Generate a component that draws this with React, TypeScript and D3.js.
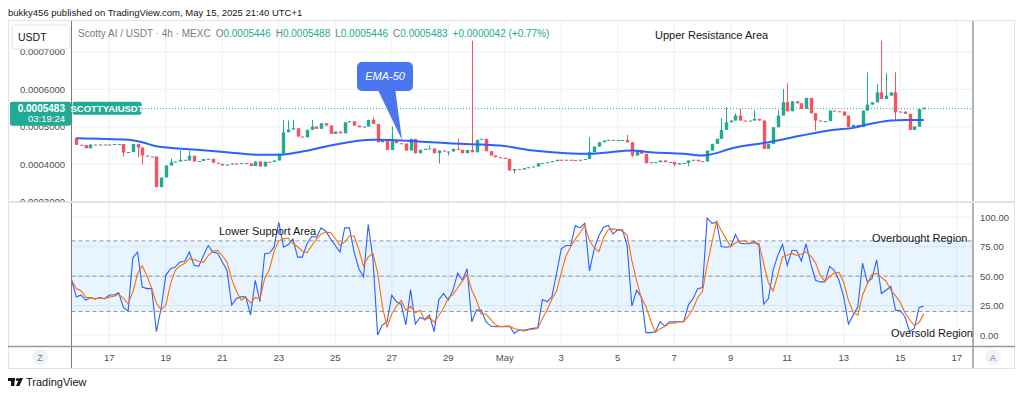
import React from 'react';
import * as d3 from 'd3';

const FONT = '"Liberation Sans", Arial, sans-serif';
const UNIT = 1e-7; // prices below are in units of 0.0000001 USDT
const FIRST_CANDLE = Date.UTC(2025, 3, 15, 20); // candle index 1
const H4 = 4 * 3600 * 1000;
const FIRST_OPEN = 4667;

// closes of 4h candles, index 1..181
const closes = [
  4491, 4485, 4400, 4499, 4485, 4499, 4485, 4499, 4512, 4512,
  4285, 4299, 4512, 4419, 4205, 4179, 4179, 3365, 3619, 3939,
  4027, 4045, 4091, 4072, 4197, 4045, 4059, 4112, 4117, 4011,
  3984, 3939, 3965, 3992, 3979, 4005, 3992, 3925, 4045, 3912,
  4037, 4032, 4072, 4251, 4827, 4899, 4933, 4712, 4693, 4891,
  4979, 4917, 5067, 5005, 4784, 4845, 4800, 5093, 5120, 5005,
  4960, 4979, 5157, 5051, 4560, 4619, 4357, 4605, 4533, 4525,
  4339, 4651, 4267, 4357, 4384, 4392, 4267, 4339, 4312, 4312,
  4384, 4357, 4267, 4352, 4293, 4624, 4651, 4320, 4205, 4160,
  4144, 4117, 3805, 3845, 3832, 3867, 3893, 3912, 4000, 4005,
  4027, 4053, 4091, 4085, 4091, 4085, 4072, 4091, 4112, 4293,
  4445, 4560, 4605, 4624, 4605, 4619, 4619, 4560, 4205, 4339,
  4251, 4000, 4027, 4027, 4072, 4027, 4032, 3965, 4000, 4005,
  4072, 4091, 4053, 4045, 4339, 4517, 4651, 4891, 5093, 5139,
  5272, 5139, 5125, 5139, 5184, 5139, 4384, 4517, 4960, 5272,
  5627, 5387, 5653, 5600, 5451, 5744, 5333, 5139, 5120, 5125,
  5405, 5387, 5379, 5272, 4960, 5024, 4965, 5405, 5565, 5627,
  5893, 5717, 5805, 5893, 5360, 5379, 5317, 4891, 4979, 5446,
  5483,
];

// wick extremes: [candle index, price]
const wickHighs: [number, number][] = [
  [1, 4685], [21, 4125], [23, 4339], [25, 4320], [45, 5157], [46, 5139], [47, 5165],
  [51, 5157], [64, 5227], [68, 4979], [76, 4472], [82, 4651], [85, 7272], [110, 4693],
  [118, 4757], [138, 5211], [139, 5499], [141, 5333], [142, 5451], [145, 5405],
  [150, 5405], [151, 5984], [152, 6133], [169, 6427], [171, 6117], [172, 7272],
  [173, 6400], [175, 6427], [181, 5488],
];
const wickLows: [number, number][] = [
  [11, 4179], [14, 4160], [15, 3965], [18, 3352], [19, 3352], [66, 4552], [78, 3992],
  [80, 4205], [94, 3733], [119, 4160], [128, 3912], [131, 3920], [158, 4872],
  [175, 5139], [181, 5446],
];

// EMA-50: [candle index, value]
const ema50: [number, number][] = [
  [1, 4667], [12, 4624], [15, 4560], [18, 4453], [26, 4365], [33, 4293], [40, 4224],
  [44, 4224], [49, 4312], [55, 4472], [64, 4624], [73, 4587], [80, 4533], [87, 4499],
  [91, 4472], [98, 4339], [105, 4267], [110, 4251], [113, 4277], [119, 4339],
  [123, 4293], [130, 4251], [134, 4205], [141, 4419], [148, 4560], [155, 4739],
  [162, 4891], [166, 4944], [169, 5032], [174, 5139], [177, 5157], [181, 5157],
];

// Stoch RSI %K, candle index 0..181
const stochK = [
  46.5, 32.4, 33.8, 29.6, 31.8, 30.7, 31.8, 30.7, 34, 34,
  35.8, 23.4, 20.3, 65.6, 70.4, 40.8, 39.4, 39.4, 2.8, 22.5,
  50.7, 56.3, 57.7, 62, 62.5, 70.4, 59.2, 58.3, 67.6, 76,
  70.4, 69.6, 62, 55, 25.4, 31, 32.4, 32.4, 16.9, 46.5,
  28.2, 69, 69.6, 74.6, 95.8, 74.6, 76.9, 81.7, 66.2, 66.2,
  77.5, 83.7, 83.1, 91, 88.2, 81.7, 76, 70.4, 91, 91,
  70.4, 56.3, 49.3, 93.8, 64.8, 0, 8.5, 11.3, 33.8, 28.2,
  26.2, 8.5, 38.6, 9.3, 14.9, 13.2, 16.9, 2.8, 30.1, 35.2,
  29.6, 38, 52.7, 46.5, 56.3, 11.3, 21.1, 21.1, 11.3, 7.6,
  7, 7, 7.3, 7.6, 1.4, 4.2, 4.2, 4.8, 5.6, 6.2,
  30.1, 28.2, 32.4, 52.1, 73.2, 76, 76, 93, 91, 94.9,
  54.4, 73.2, 84.5, 91.5, 93, 85.9, 89.3, 89.3, 76, 24.5,
  38, 32.4, 2, 2, 2.8, 11.3, 7.6, 11.3, 11.3, 11.3,
  11.3, 25.4, 31, 39.4, 40.3, 99.4, 94.9, 95.8, 75.2, 74.6,
  75.2, 85.4, 78, 77.5, 77.5, 79.7, 76, 26.2, 31, 54.9,
  67.6, 76.9, 59.2, 71.8, 71.8, 62.8, 77.5, 60.6, 46.5, 45.1,
  45.1, 58.3, 54.9, 46.5, 32.4, 9.3, 16.9, 23.9, 61.1, 45.1,
  47.9, 63.9, 35.2, 38, 41.4, 21.1, 20.6, 15.5, 2.8, 5.6,
  23.4, 24.5,
];

const priceTicks = [0.0003, 0.0004, 0.0005, 0.0006, 0.0007];
const stochTicks = [0, 25, 50, 75, 100];
const stochLevels = [80, 50, 20];

const UP = '#22ab94';
const DOWN = '#f7525f';

const tOf = (i: number) => new Date(FIRST_CANDLE + (i - 1) * H4);

const candles = closes.map((c, k) => {
  const i = k + 1;
  const o = k === 0 ? FIRST_OPEN : closes[k - 1];
  const hi = wickHighs.find((w) => w[0] === i);
  const lo = wickLows.find((w) => w[0] === i);
  return {
    i,
    t: tOf(i),
    o: o * UNIT,
    c: c * UNIT,
    h: Math.max(o, c, hi ? hi[1] : 0) * UNIT,
    l: Math.min(o, c, lo ? lo[1] : 1e9) * UNIT,
  };
});

// %D is the 3-period average of %K (definition of the indicator)
const stochD = stochK.map((_, i) => {
  const s = stochK.slice(Math.max(0, i - 2), i + 1);
  return s.reduce((a, b) => a + b, 0) / s.length;
});

const L = 71.5, R = 973;
const MAIN_T = 21, MAIN_B = 201.5;
const OSC_T = 203, OSC_B = 346;

const xS = d3.scaleUtc()
  .domain([new Date(Date.UTC(2025, 3, 17)), new Date(Date.UTC(2025, 4, 17))])
  .range([109.3, 956.7]);
const yP = d3.scaleLinear().domain([0.0004, 0.0007]).range([163.2, 50.9]);
const yO = d3.scaleLinear().domain([0, 100]).range([335, 217.3]);

const dayTicks = d3.utcDay.every(2)!.range(new Date(Date.UTC(2025, 3, 16)), new Date(Date.UTC(2025, 4, 18)));
const fmtDay = (d: Date) => (d.getUTCDate() === 1 ? d3.utcFormat('%b')(d) : String(d.getUTCDate()));

const emaLine = d3.line<[number, number]>()
  .x((d) => xS(tOf(d[0])))
  .y((d) => yP(d[1] * UNIT))
  .curve(d3.curveMonotoneX);

const kLine = d3.line<number>().x((_, i) => xS(tOf(i))).y((d) => yO(d));

const lastPrice = closes[closes.length - 1] * UNIT;

export default function App() {
  const yLast = yP(lastPrice);
  return (
    <svg width={1024} height={397} style={{ position: 'absolute', left: 0, top: 0, background: '#fff' }} fontFamily={FONT}>
      <defs>
        <clipPath id="mainClip"><rect x={L} y={MAIN_T} width={R - L} height={MAIN_B - MAIN_T} /></clipPath>
        <clipPath id="oscClip"><rect x={L} y={OSC_T} width={R - L} height={OSC_B - OSC_T} /></clipPath>
        <clipPath id="axisClip"><rect x={8} y={MAIN_T} width={L - 8} height={MAIN_B - MAIN_T} /></clipPath>
      </defs>
      <rect x={0} y={0} width={1024} height={397} fill="#fff" />
      <text x={8} y={16} fontSize={9.5} fill="#131722">bukky456 published on TradingView.com, May 15, 2025 21:40 UTC+1</text>

      {/* frame */}
      <rect x={8.5} y={20.5} width={1006} height={348} fill="none" stroke="#e0e3eb" />

      {/* grids */}
      <g stroke="#edf0f6" strokeWidth={1}>
        {dayTicks.map((d) => (
          <g key={+d}>
            <line x1={xS(d)} x2={xS(d)} y1={MAIN_T} y2={MAIN_B} />
            <line x1={xS(d)} x2={xS(d)} y1={OSC_T} y2={OSC_B} />
          </g>
        ))}
        {priceTicks.map((p) => (
          <line key={p} x1={L} x2={R} y1={yP(p) + 1} y2={yP(p) + 1} />
        ))}
        {stochTicks.map((v) => (
          <line key={v} x1={L} x2={R} y1={yO(v)} y2={yO(v)} />
        ))}
      </g>

      {/* oscillator band */}
      <rect x={L} y={yO(80)} width={R - L} height={yO(20) - yO(80)} fill="rgba(33,150,243,0.1)" />
      {stochLevels.map((v) => (
        <line key={v} x1={L} x2={R} y1={yO(v)} y2={yO(v)} stroke="#9598a1" strokeDasharray="4 3" />
      ))}
      <g clipPath="url(#oscClip)" fill="none">
        <path d={kLine(stochK)!} stroke="#2962ff" strokeWidth={1.1} />
        <path d={kLine(stochD)!} stroke="#ff6d00" strokeWidth={1.1} />
      </g>

      {/* candles */}
      <g clipPath="url(#mainClip)">
        <line x1={142} x2={R} y1={yLast + 1} y2={yLast + 1} stroke={UP} strokeDasharray="1 2" />
        {candles.map((c) => {
          const x = Math.round(xS(c.t)) + 0.5;
          const col = c.c >= c.o ? UP : DOWN;
          const yo = yP(c.o), yc = yP(c.c);
          return (
            <g key={c.i}>
              <line x1={x} x2={x} y1={yP(c.h)} y2={yP(c.l)} stroke={col} />
              <rect x={x - 1.7} width={3.4} y={Math.min(yo, yc)} height={Math.max(1, Math.abs(yo - yc))} fill={col} />
            </g>
          );
        })}
        <path d={emaLine(ema50)!} fill="none" stroke="#2962ff" strokeWidth={2} />
      </g>

      {/* axes lines */}
      <line x1={L} x2={L} y1={21} y2={368} stroke="#787b86" />
      <line x1={R} x2={R} y1={21} y2={368} stroke="#9598a1" strokeWidth={1.5} />
      <line x1={8} x2={1015} y1={202} y2={202} stroke="#e0e3eb" strokeWidth={2} />
      <line x1={8} x2={1015} y1={346.5} y2={346.5} stroke="#9598a1" strokeWidth={1.5} />

      {/* price axis labels */}
      <g clipPath="url(#axisClip)" fontSize={9.5} fill="#4a4e58" textAnchor="end">
        {priceTicks.map((p) => (
          <text key={p} x={65} y={yP(p) + 4.5}>{d3.format('.7f')(p)}</text>
        ))}
      </g>

      {/* USDT button */}
      <rect x={12} y={25} width={58} height={24} rx={3} fill="#fff" stroke="#e0e3eb" />
      <text x={18} y={41} fontSize={10.5} fill="#131722">USDT</text>

      {/* last price label */}
      <rect x={10} y={yLast - 6} width={61} height={24} rx={2} fill={UP} />
      <text x={65} y={yLast + 4.5} fontSize={10} fontWeight="bold" fill="#fff" textAnchor="end">{d3.format('.7f')(lastPrice)}</text>
      <text x={65} y={yLast + 14.5} fontSize={9.5} fill="#fff" textAnchor="end">03:19:24</text>
      <rect x={72.5} y={yLast - 6} width={69} height={13} rx={2} fill={UP} />
      <text x={107} y={yLast + 4.2} fontSize={9.5} fontWeight="bold" fill="#fff" textAnchor="middle">SCOTTYAIUSDT</text>

      {/* legend row */}
      <text x={78} y={37} fontSize={10} fill="#787b86">
        Scotty AI / USDT · 4h · MEXC
        <tspan dx={5}>O</tspan><tspan fill={UP}>0.0005446</tspan>
        <tspan dx={5}>H</tspan><tspan fill={UP}>0.0005488</tspan>
        <tspan dx={5}>L</tspan><tspan fill={UP}>0.0005446</tspan>
        <tspan dx={5}>C</tspan><tspan fill={UP}>0.0005483</tspan>
        <tspan dx={5} fill={UP}>+0.0000042 (+0.77%)</tspan>
      </text>

      {/* stoch axis labels */}
      <g fontSize={9.5} fill="#4a4e58">
        {stochTicks.map((v) => (
          <text key={v} x={980} y={yO(v) + 3.5}>{d3.format('.2f')(v)}</text>
        ))}
      </g>

      {/* time axis */}
      <g fontSize={9.5} fill="#4a4e58" textAnchor="middle">
        {dayTicks.map((d) => (
          <text key={+d} x={xS(d)} y={361}>{fmtDay(d)}</text>
        ))}
      </g>
      <circle cx={40} cy={357} r={8} fill="#f0f3fa" />
      <text x={40} y={360.5} fontSize={9} fill="#787b86" textAnchor="middle">Z</text>
      <circle cx={993} cy={357} r={8} fill="#f0f3fa" />
      <text x={993} y={360.5} fontSize={9} fill="#787b86" textAnchor="middle">A</text>

      {/* annotations */}
      <text x={655} y={39} fontSize={11} fill="#131722">Upper Resistance Area</text>
      <text x={219} y={235} fontSize={11} fill="#131722">Lower Support Area</text>
      <text x={872} y={242} fontSize={11} fill="#131722">Overbought Region</text>
      <text x={891} y={336.5} fontSize={11} fill="#131722">Oversold Region</text>

      {/* EMA-50 callout */}
      <path d="M377,88 L395,88 L402,140 Z" fill="#4a77f0" />
      <rect x={357} y={62} width={56} height={29} rx={5} fill="#4a77f0" />
      <text x={385} y={80} fontSize={11} fontStyle="italic" fill="#fff" textAnchor="middle">EMA-50</text>

      {/* TradingView logo */}
      <g fill="#131722">
        <rect x={8} y={378} width={7} height={3} />
        <rect x={11} y={378} width={3.5} height={8} />
        <circle cx={17.5} cy={379.5} r={1.6} />
        <path d="M19.5,378 L23,378 L19.5,386 L16,386 Z" />
      </g>
      <text x={26} y={386} fontSize={11} fill="#131722">TradingView</text>
    </svg>
  );
}
